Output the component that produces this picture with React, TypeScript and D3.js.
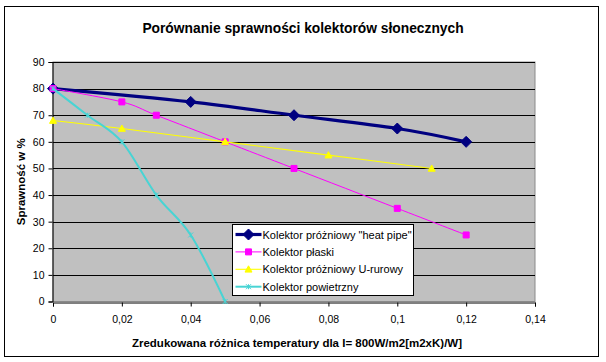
import React, { useEffect, useRef } from 'react';
import * as d3 from 'd3';

// values
const heatPipeX = [0, 0.04, 0.07, 0.1, 0.12];
const heatPipeY = [80, 75, 70, 65, 60];
const plaskiX = [0, 0.02, 0.03, 0.05, 0.07, 0.1, 0.12];
const plaskiY = [80, 75, 70, 60, 50, 35, 25];
const uRuroweX = [0, 0.02, 0.05, 0.08, 0.11];
const uRuroweY = [68, 65, 60, 55, 50];
const powietrznyX = [0, 0.01, 0.02, 0.03, 0.04, 0.05];
const powietrznyY = [80, 70, 60, 40, 25, 0];

const seriesNames = [
  'Kolektor próżniowy "heat pipe"',
  'Kolektor płaski',
  'Kolektor próżniowy U-rurowy',
  'Kolektor powietrzny',
];
const xTicks = [0, 0.02, 0.04, 0.06, 0.08, 0.1, 0.12, 0.14];
const yTicks = [0, 10, 20, 30, 40, 50, 60, 70, 80, 90];

const FONT = '"Liberation Sans", Arial, sans-serif';

const App: React.FC = () => {
  const ref = useRef<SVGSVGElement>(null);

  useEffect(() => {
    document.body.style.margin = '0';
    if (!ref.current) return;
    const svg = d3.select(ref.current);
    svg.selectAll('*').remove();

    const plot = { left: 53, right: 535, top: 62, bottom: 301.5 };
    const x = d3.scaleLinear().domain([0, 0.14]).range([plot.left, plot.right]);
    const y = d3.scaleLinear().domain([0, 90]).range([plot.bottom, plot.top]);

    // chart frame
    svg.append('rect')
      .attr('x', 4.5).attr('y', 6.5).attr('width', 594).attr('height', 350)
      .attr('fill', '#fff').attr('stroke', '#000').attr('stroke-width', 1);

    svg.append('text')
      .attr('x', 303).attr('y', 33)
      .attr('text-anchor', 'middle')
      .attr('font-family', FONT).attr('font-size', 13.8).attr('font-weight', 'bold')
      .text('Porównanie sprawności kolektorów słonecznych');

    // plot area
    svg.append('rect')
      .attr('x', plot.left).attr('y', plot.top)
      .attr('width', plot.right - plot.left).attr('height', plot.bottom - plot.top)
      .attr('fill', '#c0c0c0').attr('stroke', '#8a8a8a').attr('stroke-width', 1);

    svg.append('g')
      .selectAll('line')
      .data(yTicks.filter(t => t > 0))
      .enter().append('line')
      .attr('x1', plot.left).attr('x2', plot.right)
      .attr('y1', d => Math.round(y(d)) + 0.5).attr('y2', d => Math.round(y(d)) + 0.5)
      .attr('stroke', '#000').attr('stroke-width', 1);

    const fmt = (d: number) => String(d).replace('.', ',');

    const xAxis = svg.append('g')
      .attr('transform', `translate(0,${Math.round(plot.bottom) + 0.5})`)
      .call(d3.axisBottom(x).tickValues(xTicks).tickFormat(d => fmt(d as number)).tickSizeOuter(0).tickSize(4).tickPadding(9));
    const yAxis = svg.append('g')
      .attr('transform', `translate(${plot.left - 0.5},0)`)
      .call(d3.axisLeft(y).tickValues(yTicks).tickSizeOuter(0).tickSize(4).tickPadding(4));
    [xAxis, yAxis].forEach(a => {
      a.selectAll('text').attr('font-family', FONT).attr('font-size', 10.5).attr('fill', '#000');
      a.selectAll('line, path').attr('stroke', '#000');
    });

    svg.append('text')
      .attr('x', 297).attr('y', 347)
      .attr('text-anchor', 'middle')
      .attr('font-family', FONT).attr('font-size', 11.5).attr('font-weight', 'bold')
      .text('Zredukowana różnica temperatury dla I= 800W/m2[m2xK)/W]');

    svg.append('text')
      .attr('transform', `translate(25,${(plot.top + plot.bottom) / 2}) rotate(-90)`)
      .attr('text-anchor', 'middle')
      .attr('font-family', FONT).attr('font-size', 11.5).attr('font-weight', 'bold')
      .text('Sprawność w %');

    const markers = {
      diamond: (s: number) => `M0,${-s}L${s},0L0,${s}L${-s},0Z`,
      square: (s: number) => `M${-s},${-s}H${s}V${s}H${-s}Z`,
      triangle: (s: number) => `M0,${-s}L${s},${s * 0.8}L${-s},${s * 0.8}Z`,
      cross: (s: number) => `M${-s},${-s}L${s},${s}M${s},${-s}L${-s},${s}M0,${-s}V${s}`,
    };

    const series = [
      { name: seriesNames[0], xs: heatPipeX, ys: heatPipeY, color: '#000080', width: 3.2, marker: markers.diamond(5.5), fill: true },
      { name: seriesNames[1], xs: plaskiX, ys: plaskiY, color: '#ff00ff', width: 1, marker: markers.square(3), fill: true },
      { name: seriesNames[2], xs: uRuroweX, ys: uRuroweY, color: '#ffff00', width: 1.1, marker: markers.triangle(3.5), fill: true },
      { name: seriesNames[3], xs: powietrznyX, ys: powietrznyY, color: '#48d4d4', width: 2, marker: markers.cross(2.5), fill: false },
    ];

    const line = d3.line<[number, number]>()
      .x(d => x(d[0])).y(d => y(d[1]))
      .curve(d3.curveCatmullRom.alpha(0));

    series.forEach(s => {
      const pts: [number, number][] = s.xs.map((v, i) => [v, s.ys[i]]);
      svg.append('path')
        .attr('d', line(pts))
        .attr('fill', 'none').attr('stroke', s.color).attr('stroke-width', s.width);
      svg.append('g').selectAll('path')
        .data(pts)
        .enter().append('path')
        .attr('transform', d => `translate(${x(d[0])},${y(d[1])})`)
        .attr('d', s.marker)
        .attr('fill', s.fill ? s.color : 'none')
        .attr('stroke', s.color).attr('stroke-width', 1);
    });

    // legend
    const lg = svg.append('g').attr('transform', 'translate(232.5,224.5)');
    lg.append('rect').attr('width', 181).attr('height', 71)
      .attr('fill', '#fff').attr('stroke', '#000').attr('stroke-width', 1);
    series.forEach((s, i) => {
      const row = lg.append('g').attr('transform', `translate(0,${10 + i * 17.4})`);
      row.append('line').attr('x1', 3).attr('x2', 29)
        .attr('stroke', s.color).attr('stroke-width', s.width);
      row.append('path').attr('transform', 'translate(16,0)').attr('d', s.marker)
        .attr('fill', s.fill ? s.color : 'none').attr('stroke', s.color).attr('stroke-width', 1);
      row.append('text').attr('x', 30).attr('y', 4)
        .attr('font-family', FONT).attr('font-size', 11).attr('fill', '#000')
        .text(s.name);
    });
  }, []);

  return <svg ref={ref} width={606} height={362} style={{ display: 'block' }}></svg>;
};

export default App;
